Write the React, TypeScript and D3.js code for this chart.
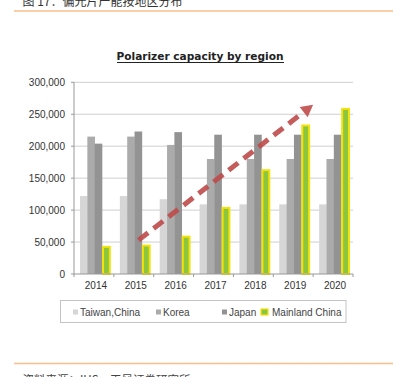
import React from "react";
import * as d3 from "d3";

const years = ["2014", "2015", "2016", "2017", "2018", "2019", "2020"];
const seriesNames = ["Taiwan,China", "Korea", "Japan", "Mainland China"];
const taiwan = [122000, 122000, 117000, 109000, 109000, 109000, 109000];
const korea = [215000, 215000, 202000, 180000, 180000, 180000, 180000];
const japan = [204000, 223000, 222000, 218000, 218000, 218000, 218000];
const mainland = [44000, 46000, 60000, 105000, 164000, 234000, 260000];
const yTicks = [0, 50000, 100000, 150000, 200000, 250000, 300000];
const colors = ["#d6d6d6", "#ababab", "#939393", "#8cc63e"];
// trend arrow: [category, fraction within band, value]
const arrowStart: [string, number, number] = ["2015", 0.62, 53000];
const arrowEnd: [string, number, number] = ["2019", 1.0, 265000];

export default function App() {
  const W = 393, H = 377;
  const left = 74, right = 353, top = 82.3, bottom = 274;
  const x = d3.scaleBand().domain(years).range([left, right]).paddingInner(0).paddingOuter(0);
  const y = d3.scaleLinear().domain([0, 300000]).range([bottom, top]);
  const inner = d3.scaleBand().domain(seriesNames).range([6, x.bandwidth() - 4.5]).padding(0);
  const data = [taiwan, korea, japan, mainland];
  const fmt = d3.format(",");

  const ax = (p: [string, number, number]) => (x(p[0]) as number) + p[1] * x.bandwidth();
  const x1 = ax(arrowStart), y1 = y(arrowStart[2]);
  const x2 = ax(arrowEnd), y2 = y(arrowEnd[2]);
  const ang = Math.atan2(y2 - y1, x2 - x1);
  const headLen = 12, headW = 6.5;
  const bx = x2 - headLen * Math.cos(ang), by = y2 - headLen * Math.sin(ang);
  const px = -Math.sin(ang), py = Math.cos(ang);
  const head = `M${x2},${y2}L${bx + px * headW},${by + py * headW}L${bx - px * headW},${by - py * headW}Z`;

  const legendItems = [
    { name: seriesNames[0], sx: 73, tx: 80 },
    { name: seriesNames[1], sx: 156, tx: 163 },
    { name: seriesNames[2], sx: 222, tx: 229 },
    { name: seriesNames[3], sx: 261, tx: 272 },
  ];

  return (
    <svg width={W} height={H} style={{ position: "absolute", left: 0, top: 0, background: "#fff" }}
      fontFamily="Liberation Sans, Arial, sans-serif">
      <text x={22.5} y={5.5} fontSize={12} fill="#333" fontFamily="Noto Sans CJK SC">图 17：偏光片产能按地区分布</text>
      <line x1={14} x2={393} y1={11} y2={11} stroke="#f9bf8a" strokeWidth={1.5} />
      <line x1={14} x2={393} y1={363.5} y2={363.5} stroke="#f9bf8a" strokeWidth={1.5} />
      <text x={22.5} y={383.5} fontSize={11.5} fill="#444" fontFamily="Noto Sans CJK SC">资料来源：IHS，天风证券研究所</text>

      <text x={200} y={60} textAnchor="middle" fontSize={10} fontWeight="bold" fill="#222"
        fontFamily="DejaVu Sans" textLength={167} lengthAdjust="spacingAndGlyphs">Polarizer capacity by region</text>
      <line x1={117} x2={284} y1={62.5} y2={62.5} stroke="#222" strokeWidth={1} />

      {yTicks.map((t) => (
        <g key={t}>
          {t > 0 && <line x1={left} x2={right} y1={y(t)} y2={y(t)} stroke="#cfcfcf" strokeWidth={1} />}
          <line x1={left - 3} x2={left} y1={y(t)} y2={y(t)} stroke="#999" />
          <text x={65} y={y(t) + 3.5} textAnchor="end" fontSize={10} fill="#333">{fmt(t)}</text>
        </g>
      ))}

      {years.map((yr, i) => (
        <g key={yr}>
          {data.map((arr, s) => {
            const bxp = (x(yr) as number) + (inner(seriesNames[s]) as number);
            const w = inner.bandwidth();
            if (s === 3) {
              return <rect key={s} x={bxp + 1} y={y(arr[i]) + 1} width={w - 0.5} height={bottom - y(arr[i]) - 1}
                fill={colors[3]} stroke="#f4e20c" strokeWidth={2} />;
            }
            return <rect key={s} x={bxp} y={y(arr[i])} width={w + 0.3} height={bottom - y(arr[i])} fill={colors[s]} />;
          })}
          <text x={(x(yr) as number) + x.bandwidth() / 2 + 2} y={288.5} textAnchor="middle" fontSize={10} fill="#333">{yr}</text>
        </g>
      ))}
      {years.concat(["end"]).map((yr, i) => (
        <line key={"t" + i} x1={left + i * x.bandwidth()} x2={left + i * x.bandwidth()} y1={bottom} y2={bottom + 3} stroke="#999" />
      ))}
      <line x1={left} x2={left} y1={top} y2={bottom} stroke="#999" />
      <line x1={left} x2={right} y1={bottom} y2={bottom} stroke="#999" />

      <line x1={x1} y1={y1} x2={bx} y2={by} stroke="#bf4b4b" strokeWidth={5} strokeDasharray="12,7" opacity={0.9} />
      <path d={head} fill="#bf4b4b" opacity={0.9} />

      <rect x={60.5} y={300.5} width={285.5} height={22} fill="#fff" stroke="#c4c4c4" strokeWidth={1} />
      {legendItems.map((it, i) => (
        <g key={it.name}>
          {i < 3 ? (
            <rect x={it.sx} y={309.5} width={5} height={5} fill={colors[i]} />
          ) : (
            <rect x={it.sx} y={309} width={7} height={6} fill={colors[3]} stroke="#f4e20c" strokeWidth={1.2} />
          )}
          <text x={it.tx} y={315.5} fontSize={10} fill="#444">{it.name}</text>
        </g>
      ))}
    </svg>
  );
}
